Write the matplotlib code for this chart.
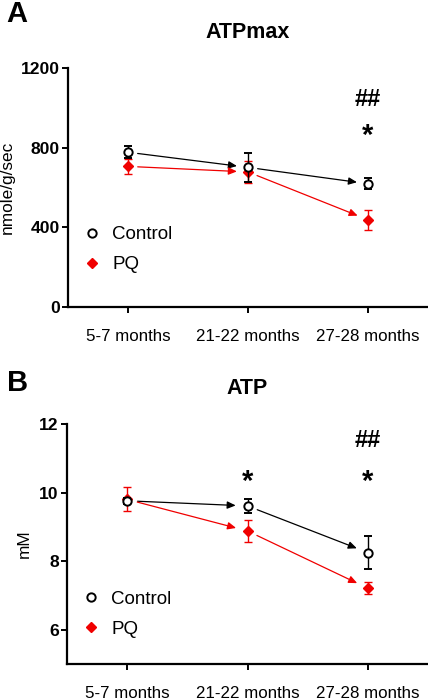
import matplotlib
matplotlib.use("Agg")
import matplotlib.pyplot as plt
from matplotlib.lines import Line2D
import numpy as np

plt.rcParams['font.family'] = ['Liberation Sans', 'DejaVu Sans']

categories = ["5-7 months", "21-22 months", "27-28 months"]

# Panel A: ATPmax (nmole/g/sec)
atpmax_control = [777, 701, 619]
atpmax_control_err = [30, 73, 29]
atpmax_pq = [706, 678, 438]
atpmax_pq_err = [37, 56, 51]

# Panel B: ATP (mM)
atp_control = [9.76, 9.61, 8.25]
atp_control_err = [0.09, 0.20, 0.48]
atp_pq = [9.80, 8.88, 7.21]
atp_pq_err = [0.35, 0.31, 0.17]

RED = '#f00000'
W, H = 428, 699
fig = plt.figure(figsize=(W / 100, H / 100), dpi=100)


def make_axes(left, top, right, bottom):
    return fig.add_axes([left / W, 1 - bottom / H, (right - left) / W, (bottom - top) / H])


def draw_panel(ax, ctrl, ctrl_err, pq, pq_err, ylim, yticks, ylabel, ylabel_x,
               shrinkA, shrinkB, marks, leg_y):
    x = np.arange(len(categories))
    # arrows
    for vals, col in ((ctrl, 'black'), (pq, RED)):
        for i in range(len(vals) - 1):
            ax.annotate('', xy=(x[i + 1], vals[i + 1]), xytext=(x[i], vals[i]),
                        arrowprops=dict(arrowstyle='-|>,head_length=0.5,head_width=0.22',
                                        color=col, lw=0.9, shrinkA=shrinkA, shrinkB=shrinkB,
                                        mutation_scale=10), zorder=2)
    ax.errorbar(x, pq, yerr=pq_err, fmt='D', color=RED, ms=5.5, mec=RED, mfc=RED,
                ecolor=RED, elinewidth=1.0, capsize=2.8, capthick=1.0, zorder=3)
    ax.errorbar(x, ctrl, yerr=ctrl_err, fmt='o', color='black', ms=6, mec='black',
                mfc='white', mew=1.4, ecolor='black', elinewidth=1.0, capsize=2.8,
                capthick=1.0, zorder=4)
    ax.set_xlim(-0.5, 2.5)
    ax.set_ylim(*ylim)
    ax.set_yticks(yticks)
    ax.set_xticks(x)
    ax.set_xticklabels(categories, fontsize=12.2)
    for lab in ax.get_yticklabels():
        lab.set_fontweight('bold')
        lab.set_fontsize(12.6)
    ax.tick_params(axis='x', length=4.5, width=1.4, pad=11)
    ax.tick_params(axis='y', length=4, width=1.4, pad=2)
    for s in ('top', 'right'):
        ax.spines[s].set_visible(False)
    for s in ('left', 'bottom'):
        ax.spines[s].set_linewidth(1.6)
    ax.set_ylabel(ylabel, fontsize=12.4)
    ax.yaxis.set_label_coords(ylabel_x, 0.5)
    for (xi, yi, txt) in marks:
        fs = 21 if txt == '*' else 17
        ax.text(xi, yi, txt, ha='center', va='center', fontsize=fs, fontweight='bold')
    handles = [
        Line2D([], [], ls='none', marker='o', ms=6, mec='black', mfc='white', mew=1.4),
        Line2D([], [], ls='none', marker='D', ms=5.5, mec=RED, mfc=RED),
    ]
    ax.legend(handles, ['Control', 'PQ'], loc='center left',
              bbox_to_anchor=(0.04, leg_y), frameon=False, fontsize=13.5,
              handlelength=1.0, handletextpad=0.6, labelspacing=0.7,
              borderpad=0, borderaxespad=0)


axA = make_axes(68, 68, 428, 307)
draw_panel(axA, atpmax_control, atpmax_control_err, atpmax_pq, atpmax_pq_err,
           (0, 1200), [0, 400, 800, 1200], 'nmole/g/sec', -0.147, 7, 8,
           [(2, 1040, '##'), (2, 860, '*')], 0.240)

axB = make_axes(67, 424, 428, 664)
draw_panel(axB, atp_control, atp_control_err, atp_pq, atp_pq_err,
           (5, 12), [6, 8, 10, 12], 'mM', -0.097, 7.5, 8.5,
           [(1, 10.3, '*'), (2, 11.53, '##'), (2, 10.3, '*')], 0.207)

fig.text(248 / W, 1 - 32 / H, 'ATPmax', ha='center', va='center', fontsize=15.5, fontweight='bold')
fig.text(247 / W, 1 - 389 / H, 'ATP', ha='center', va='center', fontsize=15.5, fontweight='bold')
fig.text(17 / W, 1 - 14 / H, 'A', ha='center', va='center', fontsize=21, fontweight='bold')
fig.text(17.5 / W, 1 - 383 / H, 'B', ha='center', va='center', fontsize=21, fontweight='bold')

fig.savefig('out.png', dpi=100)
